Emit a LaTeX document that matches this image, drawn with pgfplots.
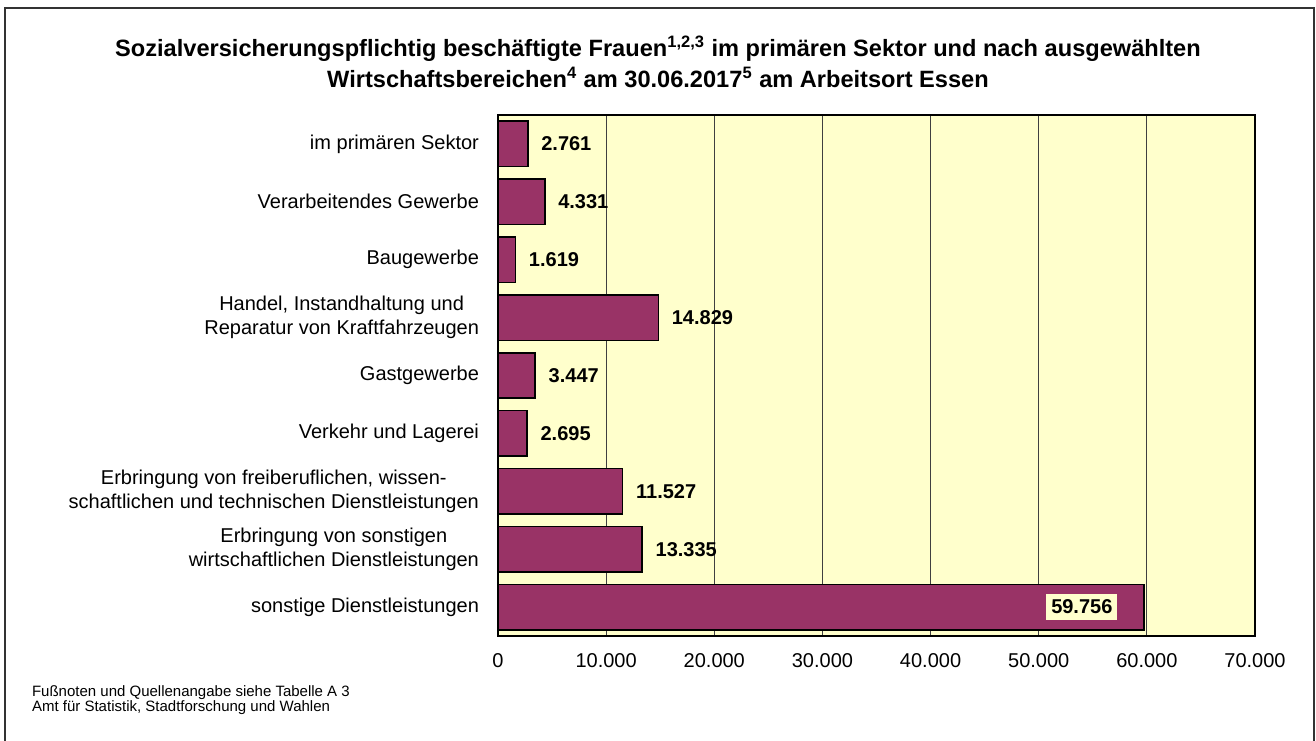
\documentclass[border=0pt]{standalone}
\usepackage{fontspec}
\setmainfont{Liberation Sans}
\usepackage{pgfplots}
\pgfplotsset{compat=1.18}
\definecolor{barcol}{HTML}{993366}
\definecolor{bgcol}{HTML}{FFFFCC}
\begin{document}
\begin{tikzpicture}
\useasboundingbox (0,0) rectangle (658pt,370pt);
\draw[line width=0.7pt, black!80] (2.5pt,-2pt) -- (2.5pt,366pt) -- (657pt,366pt) -- (657pt,-2pt);
\begin{axis}[
  at={(249pt,52pt)}, anchor=south west, scale only axis,
  width=378.5pt, height=260.5pt,
  xmin=0, xmax=70000, ymin=-0.5, ymax=8.5, y dir=reverse,
  xtick={0,10000,20000,30000,40000,50000,60000,70000}, ytick={0,1,2,3,4,5,6,7,8},
  yticklabels={{im primären Sektor},{Verarbeitendes Gewerbe},{Baugewerbe},{Handel, Instandhaltung und\\Reparatur von Kraftfahrzeugen},{Gastgewerbe},{Verkehr und Lagerei},{Erbringung von freiberuflichen, wissen-\\schaftlichen und technischen Dienstleistungen},{Erbringung von sonstigen\\wirtschaftlichen Dienstleistungen},{sonstige Dienstleistungen}},
  major tick length=0pt,
  xmajorgrids, grid style={black!75, line width=0.6pt},
  axis background/.style={fill=bgcol},
  axis line style={black, line width=0.8pt},
  /pgf/number format/.cd, 1000 sep={.}, assume math mode=true, /pgfplots/.cd,
  tick label style={font=\fontsize{10}{12}\selectfont},
  yticklabel style={align=center, xshift=-6pt},
  xticklabel style={yshift=-5pt},
  scaled x ticks=false,
  xbar, bar width=22.75pt, bar shift=0pt,
  point meta=x,
]
\addplot[fill=barcol, draw=black, line width=0.8pt, nodes near coords,
  nodes near coords style={font=\bfseries\fontsize{10}{12}\selectfont, text=black, anchor=west, xshift=3pt}]
  coordinates {(2761,0) (4331,1) (1619,2) (14829,3) (3447,4) (2695,5) (11527,6) (13335,7)};
\addplot[fill=barcol, draw=black, line width=0.8pt, nodes near coords,
  nodes near coords style={font=\bfseries\fontsize{10}{12}\selectfont, text=black, anchor=east, xshift=-13pt, fill=bgcol, inner xsep=2.5pt, inner ysep=3pt}]
  coordinates {(59756,8)};
\end{axis}
\node[align=center, font=\bfseries\fontsize{11.8}{15.5}\selectfont] at (329pt,339pt) {Sozialversicherungspflichtig beschäftigte Frauen\textsuperscript{1,2,3} im primären Sektor und nach ausgewählten\\Wirtschaftsbereichen\textsuperscript{4} am 30.06.2017\textsuperscript{5} am Arbeitsort Essen};
\node[anchor=west, align=left, font=\fontsize{7.5}{7.5}\selectfont] at (12.5pt,20pt) {Fußnoten und Quellenangabe siehe Tabelle A 3\\Amt für Statistik, Stadtforschung und Wahlen};
\end{tikzpicture}
\end{document}
